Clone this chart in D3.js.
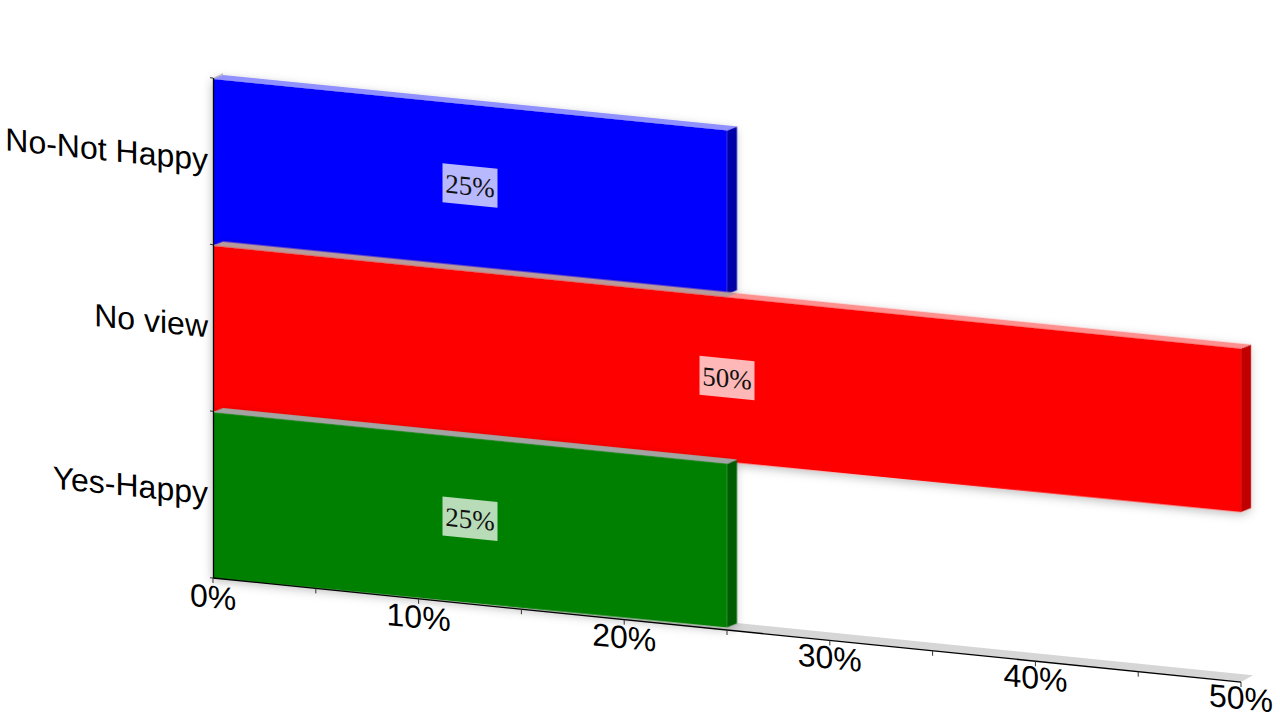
<!DOCTYPE html>
<html><head><meta charset="utf-8">
<script src="https://cdn.jsdelivr.net/npm/d3@7"></script>
<style>html,body{margin:0;background:#fff}svg{display:block}</style></head>
<body><script>
const categories = ["No-Not Happy","No view","Yes-Happy"];
const values = [25,50,25];
const labels = ["25%","50%","25%"];
const colors = ["#0000ff","#ff0000","#008000"];
const sideColors = ["#0000a8","#c00000","#005c00"];
const topColors = ["#9090ff","#ff9090","#90c090"];
const overlapColors = [null,"#b89a9a","#a3a3a3"];
const xTicks = [0,10,20,30,40,50];
const xMinorTicks = [5,15,25,35,45];

const W=1280,H=720, ox=213, oy=78, innerW=1028, innerH=500;
const axisSlope=0.1012, barSlope=0.1, labelSlope=0.0985;
const dx=10, dy=-5;        // bar depth offset, in sheared coordinates
const svg=d3.select("body").append("svg").attr("width",W).attr("height",H);
const defs=svg.append("defs");
const f=defs.append("filter").attr("id","sh").attr("x","-5%").attr("y","-5%").attr("width","110%").attr("height","115%");
f.append("feDropShadow").attr("dx",-1).attr("dy",3).attr("stdDeviation",5).attr("flood-color","#000").attr("flood-opacity",0.25);

const m=s=>`matrix(1,${s},0,1,${ox},${oy})`;
const g=svg.append("g").attr("transform",m(axisSlope));
const gb=svg.append("g").attr("transform",m(barSlope));
const ga=svg.append("g").attr("transform",m(axisSlope));
const gl=svg.append("g").attr("transform",m(labelSlope));
const x=d3.scaleLinear().domain([0,50]).range([0,innerW]);
const y=d3.scaleBand().domain(categories).range([0,innerH]);
const poly=(sel,p,fill)=>sel.append("polygon").attr("points",p.map(d=>d.join(",")).join(" ")).attr("fill",fill);

// floor and wall edge
poly(g,[[x(0),innerH],[x(50),innerH],[x(50)+12,innerH-8],[x(0)+12,innerH-8]],"#d6d6d6");
poly(g,[[x(0),0],[x(0)+10,-6],[x(0)+10,-3],[x(0),2]],"#c8c8c8");

// bars
categories.forEach((c,i)=>{
  const v=values[i], x1=x(v), y0=y(c)+1, y1=y(c)+y.bandwidth(), yr=y1-2;
  const b=gb.append("g").attr("filter","url(#sh)");
  poly(b,[[x1,y0],[x1+dx,y0+dy],[x1+dx,yr+dy],[x1,yr]],sideColors[i]);
  poly(b,[[0,y0],[dx,y0+dy],[x1+dx,y0+dy],[x1,y0]],topColors[i]);
  if(i>0){
    const ov=Math.min(v,values[i-1]);
    poly(b,[[0,y0],[dx,y0+dy],[x(ov)+dx,y0+dy],[x(ov),y0]],overlapColors[i]);
  }
  poly(b,[[0,y0],[x1,y0],[x1,yr],[0,y1]],colors[i]);
});

// axes
ga.append("line").attr("x1",0.5).attr("x2",0.5).attr("y1",0).attr("y2",innerH).attr("stroke","#000").attr("stroke-width",1.3);
ga.append("line").attr("x1",0).attr("x2",innerW).attr("y1",innerH).attr("y2",innerH).attr("stroke","#000").attr("stroke-width",1.3);
const bounds=[...categories.map(c=>y(c)),innerH];
ga.selectAll(".yt").data(bounds).join("line").attr("x1",-3).attr("x2",0).attr("y1",d=>d).attr("y2",d=>d).attr("stroke","#333");
ga.selectAll(".xt").data([...xTicks,...xMinorTicks]).join("line").attr("x1",d=>x(d)).attr("x2",d=>x(d)).attr("y1",innerH).attr("y2",innerH+5).attr("stroke","#333");

const font="'Liberation Sans',Arial,sans-serif";
gl.selectAll(".xl").data(xTicks).join("text").attr("x",d=>x(d)).attr("y",innerH+19)
  .attr("text-anchor","middle").attr("dominant-baseline","central").attr("font-family",font).attr("font-size",32).attr("fill","#000").text(d=>d+"%");
ga.selectAll(".yl").data(categories).join("text").attr("x",-5).attr("y",d=>y(d)+y.bandwidth()/2-1)
  .attr("text-anchor","end").attr("dominant-baseline","central").attr("font-family",font).attr("font-size",32).attr("fill","#000").text(d=>d);

// data labels
categories.forEach((c,i)=>{
  const cx=x(values[i]/2), cy=y(c)+y.bandwidth()/2;
  gb.append("rect").attr("x",cx-27.5).attr("y",cy-21).attr("width",55).attr("height",39).attr("fill","#fff").attr("fill-opacity",0.72);
  gb.append("text").attr("x",cx).attr("y",cy-1).attr("text-anchor","middle").attr("dominant-baseline","central")
    .attr("font-family","'Liberation Serif',serif").attr("font-size",27).attr("fill","#111").text(labels[i]);
});
</script></body></html>
